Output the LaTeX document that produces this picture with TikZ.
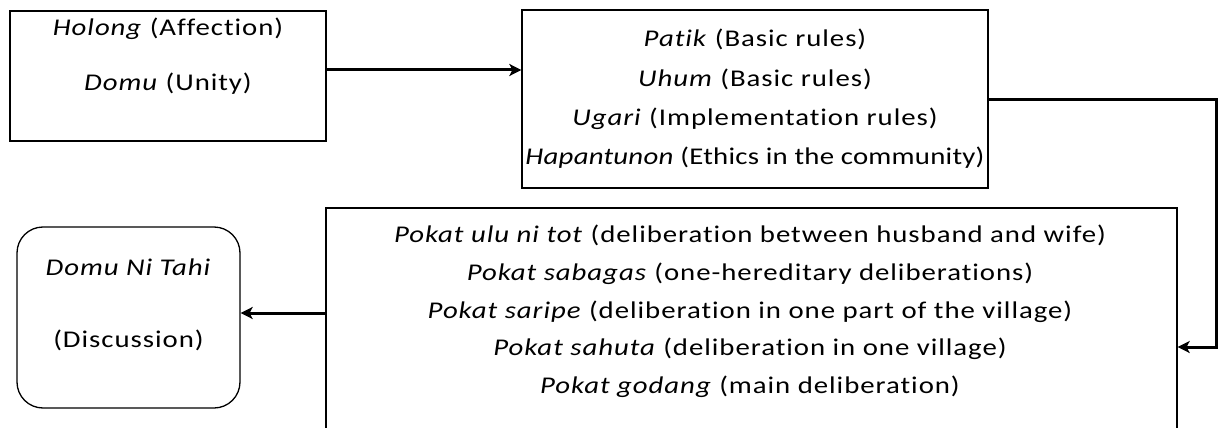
\documentclass[tikz,border=0pt]{standalone}
\usepackage{fontspec}
\setmainfont{Carlito}[FakeStretch=1.2,LetterSpace=4,Ligatures=NoCommon]
\usetikzlibrary{arrows.meta}
\begin{document}
\begin{tikzpicture}[x=1pt,y=-1pt,
  box/.style={draw, line width=1.3pt, inner sep=0pt},
  conn/.style={line width=3pt, -{Stealth[length=12pt,width=12pt,inset=3pt]}},
  txt/.style={anchor=base, inner sep=0pt, font=\fontsize{24}{28}\selectfont}]
\useasboundingbox (0,0) rectangle (1218,428);
\clip (0,0) rectangle (1218,428);
% boxes
\node[box, minimum width=316pt, minimum height=130pt] (b1) at (168,76) {};
\node[box, minimum width=466pt, minimum height=178pt] (b2) at (755,99) {};
\node[box, minimum width=851pt, minimum height=232pt] (b3) at (751.5,324) {};
\node[box, rounded corners=26pt, minimum width=223pt, minimum height=181pt] (b4) at (128.5,317.5) {};
% texts
\node[txt] (t1a) at (168,36) {\textit{Holong} (Affection)};
\node[txt] (t1b) at (168,90) {\textit{Domu} (Unity)};
\node[txt] (t2a) at (755,47) {\textit{Patik} (Basic rules)};
\node[txt] (t2b) at (755,86) {\textit{Uhum} (Basic rules)};
\node[txt] (t2c) at (755,125) {\textit{Ugari} (Implementation rules)};
\node[txt] (t2d) at (755,164) {\addfontfeature{LetterSpace=1}\textit{Hapantunon} (Ethics in the community)};
\node[txt] (t3a) at (750,242) {\textit{Pokat ulu ni tot} (deliberation between husband and wife)};
\node[txt] (t3b) at (750,280) {\textit{Pokat sabagas} (one-hereditary deliberations)};
\node[txt] (t3c) at (750,318) {\textit{Pokat saripe} (deliberation in one part of the village)};
\node[txt] (t3d) at (750,355) {\textit{Pokat sahuta} (deliberation in one village)};
\node[txt] (t3e) at (750,393) {\textit{Pokat godang} (main deliberation)};
\node[txt] (t4a) at (128.5,275) {\textit{Domu Ni Tahi}};
\node[txt] (t4b) at (128.5,347) {(Discussion)};
% connectors
\coordinate (c1) at (1216,347);
\draw[conn] ([yshift=6pt]b1.east) -- ([yshift=6pt]b1.east -| b2.west);
\draw[conn] (b2.east) -| (c1) -- (c1 -| b3.east);
\draw[conn] ([yshift=4.5pt]b4.east -| b3.west) -- ([yshift=4.5pt]b4.east);
\end{tikzpicture}
\end{document}
